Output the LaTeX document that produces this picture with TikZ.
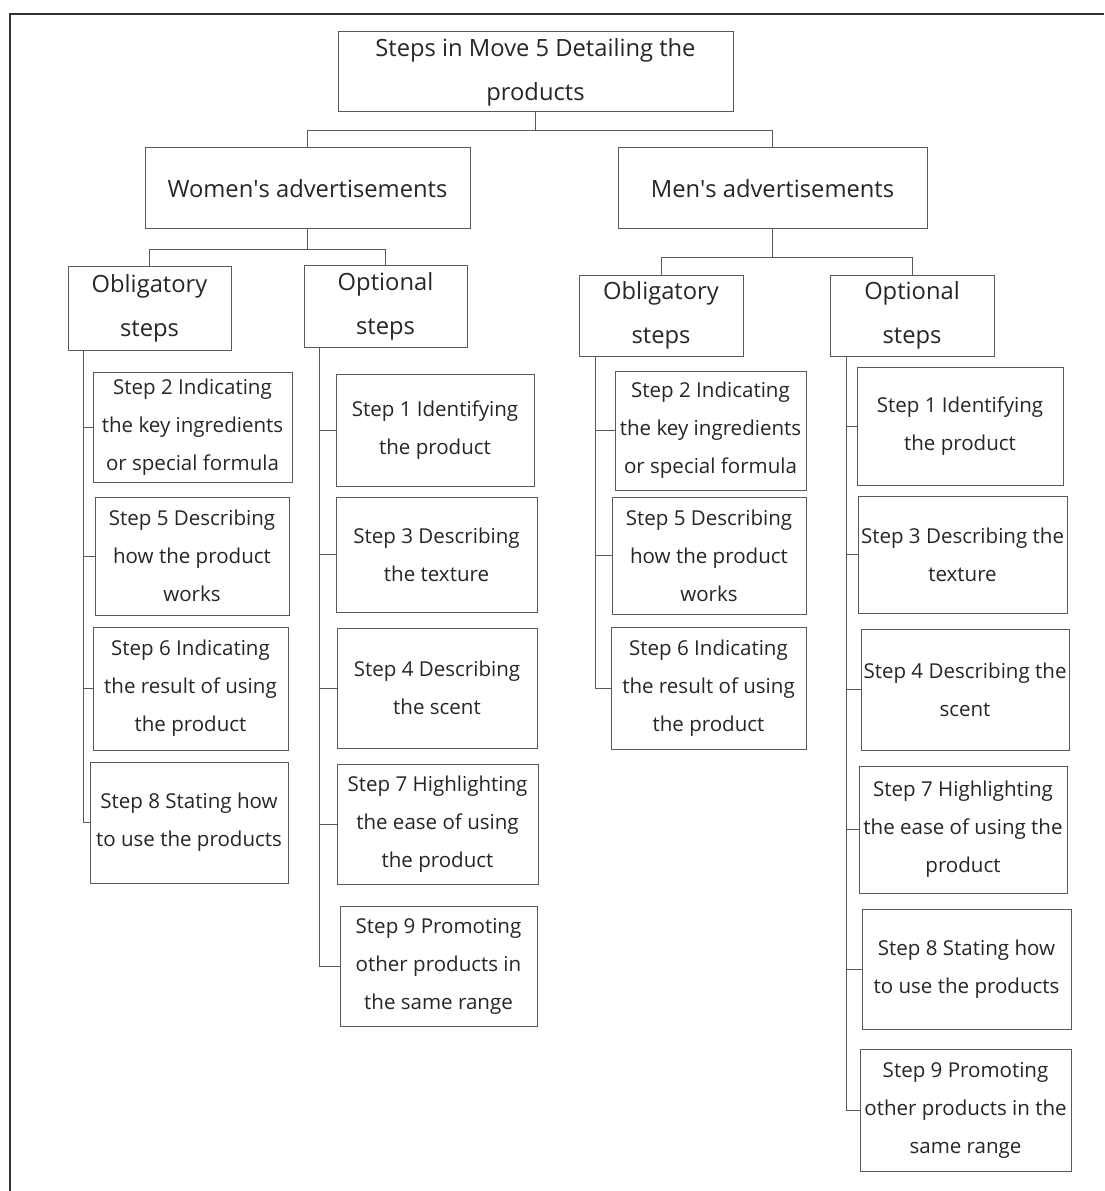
\documentclass[tikz,border=0pt]{standalone}
\usepackage{fontspec}
\setmainfont{Open Sans}
\usetikzlibrary{calc}

\tikzset{every picture/.style={line width=0.75pt}}
\tikzset{
  headbox/.style 2 args={draw=black!65, inner sep=0pt, align=center,
    minimum width=#1*0.75pt, minimum height=#2*0.75pt,
    font=\fontsize{17.8}{33}\selectfont, text=black!85},
  stepbox/.style 2 args={draw=black!65, inner sep=0pt, align=center,
    minimum width=#1*0.75pt, minimum height=#2*0.75pt,
    font=\fontsize{15.4}{28.5}\selectfont, text=black!85},
  link/.style={draw=black!65, line width=0.75pt},
  frame/.style={draw=black!80, line width=1.5pt}
}

\begin{document}
\begin{tikzpicture}[x=0.75pt,y=0.75pt,yscale=-1,xscale=1]
  \useasboundingbox (0,0) rectangle (1104,1191);

  %Shape: Frame
  \draw[frame] (10,1191) -- (10,14) -- (1104,14);

  % Top levels
  \node[headbox={395}{80}] (root) at (535.5,72) {Steps in Move 5 Detailing the\\products};
  \node[headbox={325}{81}] (women) at (307.5,188.5) {Women\textquotesingle s advertisements};
  \node[headbox={309}{81}] (men) at (772.5,188.5) {Men\textquotesingle s advertisements};

  \node[headbox={163}{84}] (obW) at (149.5,308) {Obligatory\\steps};
  \node[headbox={163}{82}] (opW) at (385.5,306) {Optional\\steps};
  \node[headbox={164}{81}] (obM) at (661,315.5) {Obligatory\\steps};
  \node[headbox={164}{81}] (opM) at (912,315.5) {Optional\\steps};

  % Women, obligatory
  \node[stepbox={199}{110}] (w2) at (192.5,427) {Step 2 Indicating\\the key ingredients\\or special formula};
  \node[stepbox={194}{118}] (w5) at (192,556) {Step 5 Describing\\how the product\\works};
  \node[stepbox={195}{123}] (w6) at (190.5,688.5) {Step 6 Indicating\\the result of using\\the product};
  \node[stepbox={198}{121}] (w8) at (189,822.5) {Step 8 Stating how\\to use the products};

  % Women, optional
  \node[stepbox={198}{112}] (w1) at (435,430) {Step 1 Identifying\\the product};
  \node[stepbox={201}{115}] (w3) at (436.5,554.5) {Step 3 Describing\\the texture};
  \node[stepbox={200}{120}] (w4) at (437,688) {Step 4 Describing\\the scent};
  \node[stepbox={201}{120}] (w7) at (437.5,824) {Step 7 Highlighting\\the ease of using\\the product};
  \node[stepbox={197}{120}] (w9) at (438.5,966) {Step 9 Promoting\\other products in\\the same range};

  % Men, obligatory
  \node[stepbox={191}{119}] (m2) at (710.5,430.5) {Step 2 Indicating\\the key ingredients\\or special formula};
  \node[stepbox={194}{117}] (m5) at (709,555.5) {Step 5 Describing\\how the product\\works};
  \node[stepbox={195}{122}] (m6) at (708.5,688) {Step 6 Indicating\\the result of using\\the product};

  % Men, optional
  \node[stepbox={206}{118}] (m1) at (960,426) {Step 1 Identifying\\the product};
  \node[stepbox={209}{117}] (m3) at (962.5,554.5) {Step 3 Describing the\\texture};
  \node[stepbox={208}{121}] (m4) at (965,689.5) {Step 4 Describing the\\scent};
  \node[stepbox={208}{127}] (m7) at (963,829.5) {Step 7 Highlighting\\the ease of using the\\product};
  \node[stepbox={209}{120}] (m8) at (966.5,969) {Step 8 Stating how\\to use the products};
  \node[stepbox={211}{122}] (m9) at (965.5,1110) {Step 9 Promoting\\other products in the\\same range};

  %Straight Lines: tree
  \draw[link] (root.south) -- ++(0,18) -| (women.north);
  \draw[link] (root.south) -- ++(0,18) -| (men.north);
  \draw[link] (women.south) -- ++(0,20) -| (obW.north);
  \draw[link] (women.south) -- ++(0,20) -| (opW.north);
  \draw[link] (men.south) -- ++(0,28) -| (obM.north);
  \draw[link] (men.south) -- ++(0,28) -| (opM.north);

  %Straight Lines: stems
  \coordinate (obWs) at ([xshift=12pt]obW.south west);
  \coordinate (opWs) at ([xshift=12pt]opW.south west);
  \coordinate (obMs) at ([xshift=12.75pt]obM.south west);
  \coordinate (opMs) at ([xshift=12.75pt]opM.south west);
  \foreach \s in {w2,w5,w6,w8} \draw[link] (obWs) |- (\s.west);
  \foreach \s in {w1,w3,w4,w7,w9} \draw[link] (opWs) |- (\s.west);
  \foreach \s in {m2,m5,m6} \draw[link] (obMs) |- (\s.west);
  \foreach \s in {m1,m3,m4,m7,m8,m9} \draw[link] (opMs) |- (\s.west);

\end{tikzpicture}
\end{document}
